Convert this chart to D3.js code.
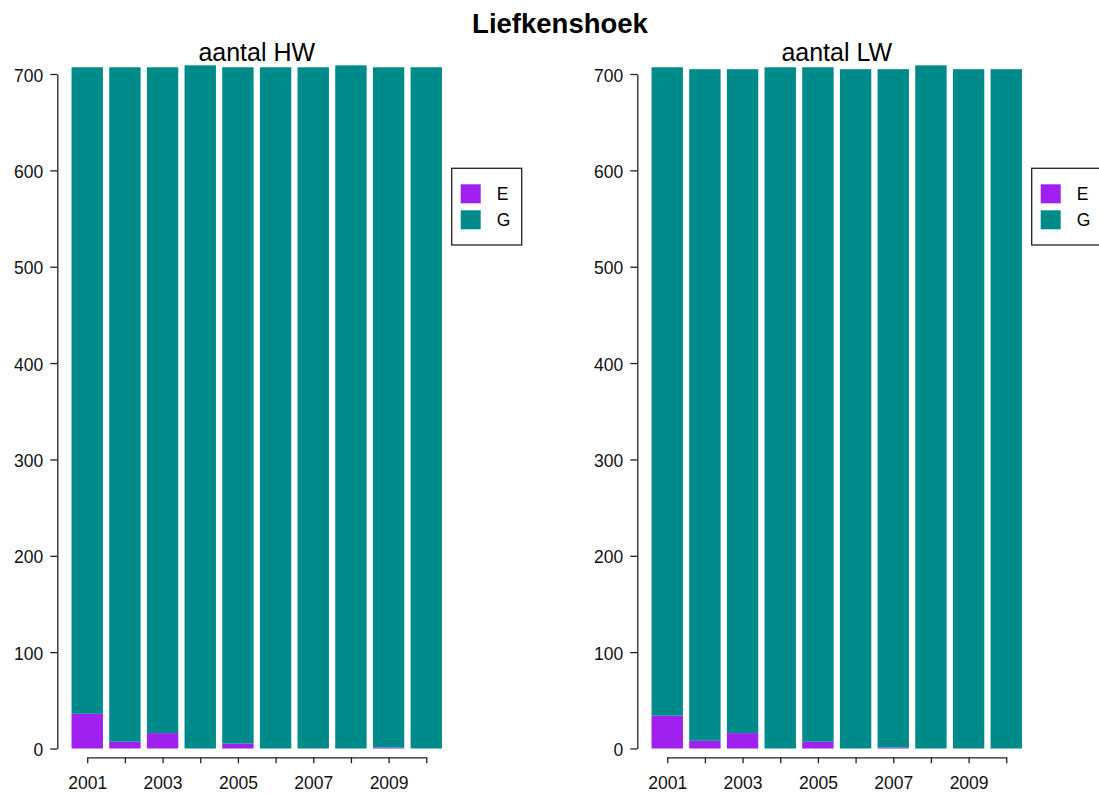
<!DOCTYPE html>
<html>
<head>
<meta charset="utf-8">
<script src="https://cdn.jsdelivr.net/npm/d3@7"></script>
<style>
  body { margin: 0; background: #fff; }
  text { font-family: 'Liberation Sans', Arial, sans-serif; }
  .axis path, .axis line { stroke: #222; stroke-width: 1.3; }
  .axis text { font-size: 17.5px; fill: #111; }
</style>
</head>
<body>
<div id="chart"></div>
<script>
// data
let years = [2001, 2002, 2003, 2004, 2005, 2006, 2007, 2008, 2009, 2010]
let categories = ['E', 'G']
let hwE = [36, 7, 16, 0, 5, 0, 0, 0, 1, 0]
let hwG = [671, 700, 691, 709, 702, 707, 707, 709, 706, 707]
let lwE = [34, 8, 16, 0, 7, 0, 1, 0, 0, 0]
let lwG = [673, 697, 689, 707, 700, 705, 704, 709, 705, 705]
let yTicks = [0, 100, 200, 300, 400, 500, 600, 700]
let xLabels = [2001, 2003, 2005, 2007, 2009]

let width = 1099
let height = 794

let colorScale = d3
  .scaleOrdinal()
  .domain(categories)
  .range(['#a020f0', '#008b8b'])

let svg = d3
  .select('#chart')
  .append('svg')
  .attr('width', width)
  .attr('height', height)

svg
  .append('rect')
  .attr('width', width)
  .attr('height', height)
  .attr('fill', '#fff')

svg
  .append('text')
  .attr('x', 560)
  .attr('y', 33)
  .attr('text-anchor', 'middle')
  .attr('font-size', 27.5)
  .attr('font-weight', 'bold')
  .text('Liefkenshoek')

let yPositionScale = d3.scaleLinear().domain([0, 700]).range([748.5, 74])

function drawPanel(offset, title, eValues, gValues) {
  let g = svg.append('g').attr('transform', 'translate(' + offset + ',0)')

  let xPositionScale = d3
    .scaleBand()
    .domain(years)
    .range([68.4, 445.1])
    .paddingInner(1 / 6)
    .paddingOuter(1 / 12)

  let half = xPositionScale.bandwidth() / 2
  let tickScale = d3
    .scalePoint()
    .domain(years)
    .range([xPositionScale(years[0]) + half, xPositionScale(years[years.length - 1]) + half])

  let rows = years.map((y, i) => ({ year: y, E: eValues[i], G: gValues[i] }))
  let stacked = d3.stack().keys(categories)(rows)

  g.selectAll('.layer')
    .data(stacked)
    .enter()
    .append('g')
    .attr('class', 'layer')
    .attr('fill', d => colorScale(d.key))
    .selectAll('rect')
    .data(d => d)
    .enter()
    .append('rect')
    .attr('x', d => xPositionScale(d.data.year))
    .attr('width', xPositionScale.bandwidth())
    .attr('y', d => yPositionScale(d[1]))
    .attr('height', d => yPositionScale(d[0]) - yPositionScale(d[1]))

  let yAxis = d3
    .axisLeft(yPositionScale)
    .tickValues(yTicks)
    .tickSize(7)
    .tickSizeOuter(0)
    .tickPadding(7)
  g.append('g')
    .attr('class', 'axis y-axis')
    .attr('transform', 'translate(57.3,0)')
    .call(yAxis)
    .selectAll('text')
    .attr('dy', '0.4em')

  let xAxis = d3
    .axisBottom(tickScale)
    .tickSize(6)
    .tickSizeOuter(0)
    .tickPadding(13)
    .tickFormat(d => (xLabels.includes(d) ? d : ''))
  g.append('g')
    .attr('class', 'axis x-axis')
    .attr('transform', 'translate(0,757.3)')
    .call(xAxis)

  g.append('text')
    .attr('x', (68.4 + 445.1) / 2)
    .attr('y', 61)
    .attr('text-anchor', 'middle')
    .attr('font-size', 25)
    .text(title)

  // legend
  let legend = g.append('g').attr('transform', 'translate(451.7,168.3)')
  legend
    .append('rect')
    .attr('width', 70)
    .attr('height', 76.7)
    .attr('fill', '#fff')
    .attr('stroke', '#222')
    .attr('stroke-width', 1.3)
  legend
    .selectAll('.key')
    .data(categories)
    .enter()
    .append('rect')
    .attr('x', 9)
    .attr('y', (d, i) => 16 + i * 26)
    .attr('width', 20)
    .attr('height', 19)
    .attr('fill', d => colorScale(d))
  legend
    .selectAll('.label')
    .data(categories)
    .enter()
    .append('text')
    .attr('x', 45)
    .attr('y', (d, i) => 25.5 + i * 26)
    .attr('dy', '0.36em')
    .attr('font-size', 17.5)
    .text(d => d)
}

drawPanel(0, 'aantal HW', hwE, hwG)
drawPanel(580, 'aantal LW', lwE, lwG)
</script>
</body>
</html>
